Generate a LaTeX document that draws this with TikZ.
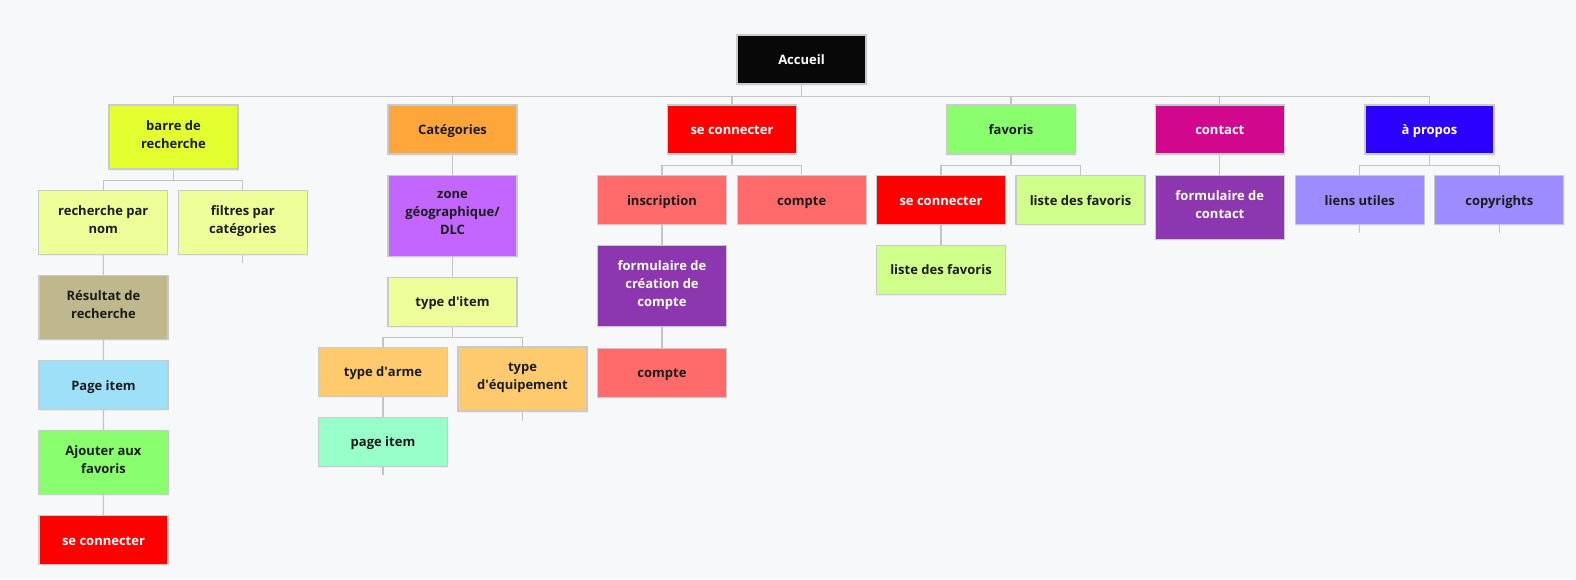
\documentclass[tikz,border=0pt]{standalone}
\usepackage{fontspec}
\setmainfont{Open Sans}
\usepackage{xcolor}
\usetikzlibrary{positioning,shadows}

% Colours of the site map.
\definecolor{pagebg}{HTML}{F7F8FA}
\definecolor{boxline}{HTML}{CACACA}
\definecolor{linkgray}{HTML}{C4C4C4}
\definecolor{inkdark}{HTML}{1C1C1C}
\definecolor{cBlack}{HTML}{080808}
\definecolor{cLime}{HTML}{E3FF2F}
\definecolor{cPaleYellow}{HTML}{EEFF99}
\definecolor{cKhaki}{HTML}{BEB88C}
\definecolor{cSky}{HTML}{9EE0F7}
\definecolor{cGreen}{HTML}{8AFF6E}
\definecolor{cRed}{HTML}{FF0000}
\definecolor{cOrange}{HTML}{FFA63A}
\definecolor{cViolet}{HTML}{C266FF}
\definecolor{cApricot}{HTML}{FFCA6E}
\definecolor{cMint}{HTML}{99FFCA}
\definecolor{cSalmon}{HTML}{FF6B6B}
\definecolor{cPurple}{HTML}{8C37B0}
\definecolor{cPaleGreen}{HTML}{D1FF8C}
\definecolor{cMagenta}{HTML}{D1088D}
\definecolor{cBlue}{HTML}{2B00FF}
\definecolor{cLavender}{HTML}{9D8CFF}

\newcommand{\apos}{\textquotesingle}

\tikzset{
    page/.style={draw=boxline, line width=0.6pt, minimum width=2.58cm,
        minimum height=0.98cm, align=center, inner sep=2pt, text=inkdark,
        font=\fontsize{7.4}{10.2}\selectfont\bfseries,
        execute at begin node={\rule{0pt}{9pt}},
        execute at end node=\strut,
        drop shadow={opacity=0.08, shadow xshift=0.4pt, shadow yshift=-0.9pt}},
    twoline/.style={minimum height=1.28cm},
    threeline/.style={minimum height=1.62cm},
    onwhite/.style={text=white},
    link/.style={draw=linkgray, line width=0.6pt},
}

\begin{document}
\begin{tikzpicture}[x=0.02cm, y=-0.02cm]

        % Draw the page background.
        \fill[pagebg] (0,0) rectangle (1576,579);
        \useasboundingbox (0,0) rectangle (1576,579);

        % Top level.
        \node[page, onwhite, fill=cBlack] (acc) at (801.5,59.5) {Accueil};
        \node[page, twoline, fill=cLime] (barre) at (173.5,137) {barre de\\recherche};
        \node[page, fill=cOrange] (cat) at (452.5,129.5) {Catégories};
        \node[page, onwhite, fill=cRed] (sec) at (732,129.5) {se connecter};
        \node[page, fill=cGreen] (fav) at (1011,129.5) {favoris};
        \node[page, onwhite, fill=cMagenta] (contact) at (1219.8,129.5) {contact};
        \node[page, onwhite, fill=cBlue] (apropos) at (1429.5,129.5) {à propos};

        % Branch: barre de recherche.
        \node[page, twoline, fill=cPaleYellow] (rnom) at (103.3,222.3) {recherche par\\nom};
        \node[page, twoline, fill=cPaleYellow] (filtres) at (242.8,222.3) {filtres par\\catégories};
        \node[page, twoline, fill=cKhaki] (result) at (103.5,307.2) {Résultat de\\recherche};
        \node[page, fill=cSky] (pgitem) at (103.5,385) {Page item};
        \node[page, twoline, fill=cGreen] (ajout) at (103.5,462.3) {Ajouter aux\\favoris};
        \node[page, onwhite, fill=cRed] (seclow) at (103.5,539.8) {se connecter};

        % Branch: Catégories.
        \node[page, threeline, fill=cViolet] (zone) at (452.5,215.8) {zone\\géographique/\\DLC};
        \node[page, fill=cPaleYellow] (titem) at (452.5,301.7) {type d\apos item};
        \node[page, fill=cApricot] (arme) at (383,371.7) {type d\apos arme};
        \node[page, twoline, fill=cApricot] (equip) at (522.5,379) {type\\d\apos équipement};
        \node[page, fill=cMint] (pitem) at (383,441.7) {page item};

        % Branch: se connecter.
        \node[page, fill=cSalmon] (inscr) at (662,199.8) {inscription};
        \node[page, fill=cSalmon] (compte) at (801.7,199.8) {compte};
        \node[page, threeline, onwhite, fill=cPurple] (fcompte) at (662,286.3) {formulaire de\\création de\\compte};
        \node[page, fill=cSalmon] (comptelow) at (662,372.7) {compte};

        % Branch: favoris.
        \node[page, onwhite, fill=cRed] (secfav) at (941,199.8) {se connecter};
        \node[page, fill=cPaleGreen] (liste) at (1080.5,199.8) {liste des favoris};
        \node[page, fill=cPaleGreen] (listelow) at (941,269.7) {liste des favoris};

        % Branch: contact and à propos.
        \node[page, twoline, onwhite, fill=cPurple] (fcontact) at (1219.8,207.2) {formulaire de\\contact};
        \node[page, fill=cLavender] (liens) at (1359.8,199.8) {liens utiles};
        \node[page, fill=cLavender] (copy) at (1499.3,199.8) {copyrights};

        % Free ends of the leaf stubs.
        \coordinate (filtres-end) at (242.8,263.3);
        \coordinate (equip-end) at (522.5,420.7);
        \coordinate (pitem-end) at (383,475);
        \coordinate (liens-end) at (1359.8,233.3);
        \coordinate (copy-end) at (1499.3,233.3);

        % Draw tree connectors.
        \foreach \c in {barre,cat,sec,fav,contact,apropos}
            \draw[link] (acc.south) -- ++(0,11.5) -| (\c.north);
        \foreach \c in {rnom,filtres}
            \draw[link] (barre.south) -- ++(0,11) -| (\c.north);
        \foreach \c in {arme,equip}
            \draw[link] (titem.south) -- ++(0,11) -| (\c.north);
        \foreach \c in {inscr,compte}
            \draw[link] (sec.south) -- ++(0,11) -| (\c.north);
        \foreach \c in {secfav,liste}
            \draw[link] (fav.south) -- ++(0,11) -| (\c.north);
        \foreach \c in {liens,copy}
            \draw[link] (apropos.south) -- ++(0,11) -| (\c.north);

        % Draw chains.
        \draw[link] (rnom) -- (result) -- (pgitem) -- (ajout) -- (seclow);
        \draw[link] (cat) -- (zone) -- (titem);
        \draw[link] (arme) -- (pitem);
        \draw[link] (inscr) -- (fcompte) -- (comptelow);
        \draw[link] (secfav) -- (listelow);
        \draw[link] (contact) -- (fcontact);

        % Draw leaf stubs.
        \draw[link] (filtres) -- (filtres-end);
        \draw[link] (equip) -- (equip-end);
        \draw[link] (pitem) -- (pitem-end);
        \draw[link] (liens) -- (liens-end);
        \draw[link] (copy) -- (copy-end);
    \end{tikzpicture}
\end{document}
